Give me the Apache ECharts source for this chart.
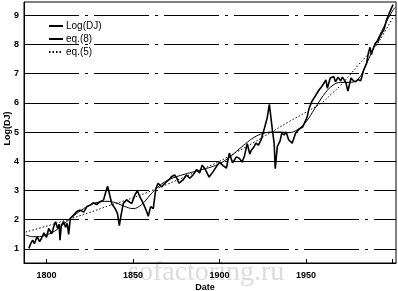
<!DOCTYPE html>
<html>
<head>
<meta charset="utf-8">
<script src="https://cdn.jsdelivr.net/npm/echarts@6/dist/echarts.min.js"></script>
<style>
html,body{margin:0;padding:0;background:#fff;}
#chart{width:398px;height:291px;}
</style>
</head>
<body>
<div id="chart"></div>
<script>
// ---- data ----
const xTickValues = [1800, 1850, 1900, 1950];
const xTickMarks = [1800, 1850, 1900, 1950, 2000];
const yTickValues = [1, 2, 3, 4, 5, 6, 7, 8, 9];
const legendNames = ['Log(DJ)', 'eq.(8)', 'eq.(5)'];

const djYears = [1789.8,1791,1792,1793,1794.5,1796,1797,1798.5,1800,1801.3,1803,1804.2,1805.2,1806.5,1807.3,1807.8,1808.6,1810,1811,1812,1812.8,1813.8,1815.5,1817.5,1819.5,1821.5,1823.4,1825.3,1827,1829,1831,1833,1834.5,1835.3,1836.4,1837.7,1839.7,1841,1842.1,1843.1,1844.4,1846.4,1848,1849.3,1851.1,1852.5,1854,1855.9,1857.9,1858.8,1860.2,1861.7,1863.2,1864.5,1866.5,1868,1869.4,1871,1872.2,1874.1,1875.5,1876.6,1878.9,1880.9,1882.8,1884.7,1886.8,1888.5,1890,1892,1894,1896,1898,1900,1902,1904,1905.7,1907.5,1909.8,1911.5,1913,1914.5,1916,1917.5,1918.4,1920,1921,1922.5,1924,1926,1927.6,1928.8,1929.3,1930.5,1931.6,1932.2,1933.4,1935,1936,1937.3,1938.5,1940,1942,1944,1946,1948,1950.6,1951.7,1953.4,1955,1957.5,1959,1961.5,1962.3,1964,1966,1967,1968.5,1970,1971,1973,1974.2,1976,1977.5,1978.7,1980,1981.6,1983.3,1985,1986,1987,1987.8,1988.5,1990,1991.5,1993.7,1995,1996.5,1998,1999.4,2000.3];
const djValues = [1.02,1.2,1.3,1.18,1.42,1.25,1.35,1.55,1.4,1.7,1.52,1.76,1.93,1.7,1.85,1.3,1.82,1.93,1.74,1.88,1.5,2.05,2.15,2.28,2.33,2.26,2.45,2.5,2.58,2.52,2.62,2.68,3.0,3.15,2.88,2.55,2.38,2.22,1.8,2.16,2.56,2.68,2.6,2.56,2.85,3.0,2.78,2.56,2.28,2.12,2.45,2.38,3.07,3.25,3.12,3.22,3.3,3.38,3.47,3.53,3.4,3.25,3.36,3.53,3.42,3.53,3.72,3.6,3.87,3.7,3.46,3.62,3.8,3.97,3.85,3.77,4.28,3.95,4.15,4.1,3.97,4.2,4.6,4.25,4.38,4.5,4.62,4.55,4.73,5.14,5.5,5.95,5.7,5.1,4.6,3.75,4.5,4.7,4.97,4.9,5.0,4.73,4.62,4.97,5.1,5.17,5.5,5.8,6.05,6.2,6.44,6.55,6.78,6.5,6.85,6.9,6.72,6.88,6.75,6.88,6.7,6.4,6.85,6.75,6.72,6.8,6.75,7.12,7.35,7.7,7.9,7.65,7.8,8.04,8.1,8.38,8.5,8.83,9.05,9.24,9.36];

const eq8Years = [1788,1792,1796,1800,1805,1810,1815,1820,1825,1830,1835,1840,1845,1850,1855,1860,1865,1870,1875,1880,1885,1890,1895,1900,1905,1910,1915,1920,1925,1930,1935,1940,1945,1950,1955,1960,1965,1970,1975,1980,1985,1990,1995,2000,2001.7];
const eq8Values = [1.48,1.42,1.42,1.48,1.62,1.85,2.1,2.32,2.5,2.6,2.63,2.58,2.46,2.38,2.52,2.85,3.15,3.35,3.47,3.56,3.64,3.72,3.8,3.92,4.1,4.35,4.6,4.82,4.95,5.0,5.0,4.98,5.08,5.35,5.8,6.25,6.58,6.7,6.7,6.8,7.35,8.0,8.6,9.15,9.27];

const eq5Years = [1788,1800,1812,1825,1837,1850,1861,1870,1880,1890,1900,1910,1920,1930,1940,1950,1959,1965,1970,1976,1980,1985,1991,1995,2000.5];
const eq5Values = [1.58,1.78,2.0,2.25,2.5,2.75,3.0,3.22,3.47,3.73,4.0,4.32,4.65,5.0,5.35,5.68,6.0,6.32,6.6,7.0,7.28,7.6,8.0,8.38,8.95];

function pairs(xs, ys) { return xs.map((x, i) => [x, ys[i]]); }

const chart = echarts.init(document.getElementById('chart'), null, {renderer: 'canvas'});
const font = 'Liberation Sans, Arial, sans-serif';

chart.setOption({
  animation: false,
  backgroundColor: '#fff',
  grid: {left: 24, right: 2, top: 2, bottom: 28, outerBoundsMode: 'none', containLabel: false, show: true, borderColor: '#000', borderWidth: 1, backgroundColor: 'transparent'},
  legend: {
    data: legendNames,
    orient: 'vertical',
    left: 48, top: 21, padding: 0,
    itemWidth: 14, itemHeight: 8, itemGap: 3,
    itemStyle: {opacity: 0},
    textStyle: {fontFamily: font, fontSize: 10, color: '#000', padding: [0,0,0,-2]},
    selectedMode: false
  },
  xAxis: {
    type: 'value', min: 1787, max: 2002,
    name: 'Date', nameLocation: 'middle', nameGap: 20, nameMoveOverlap: false,
    nameTextStyle: {fontFamily: font, fontSize: 9, fontWeight: 'bold', color: '#000', padding: [0, 10, 0, 0]},
    axisLine: {show: true, lineStyle: {color: '#000', width: 1}},
    axisTick: {show: true, inside: true, length: 4, customValues: xTickMarks, lineStyle: {color: '#000'}},
    axisLabel: {customValues: xTickValues, formatter: v => String(v), fontFamily: font, fontSize: 9, fontWeight: 'bold', color: '#000', margin: 8},
    splitLine: {show: false}
  },
  yAxis: {
    type: 'value', min: 0.52, max: 9.45,
    name: 'Log(DJ)', nameLocation: 'middle', nameGap: 12, nameMoveOverlap: false, nameRotate: 90,
    nameTextStyle: {fontFamily: font, fontSize: 9, fontWeight: 'bold', color: '#000', padding: [0, 0, 0, 8]},
    axisLine: {show: true, lineStyle: {color: '#000', width: 1}},
    axisTick: {show: false},
    axisLabel: {customValues: yTickValues, formatter: v => String(v), fontFamily: font, fontSize: 9, fontWeight: 'bold', color: '#000', margin: 5},
    splitLine: {show: false}
  },
  graphic: [{
    type: 'text', left: 128, top: 259, z: -10, silent: true,
    style: {text: 'sofactoring.ru', font: '28px "Liberation Serif", serif', fill: '#dcdcdc'}
  }],
  series: [
    {
      name: 'Log(DJ)', type: 'line', data: pairs(djYears, djValues),
      symbol: 'none', lineStyle: {color: '#000', width: 1.6}, itemStyle: {color: '#000'}, z: 5,
      markLine: {
        silent: true, symbol: ['none', 'none'], label: {show: false},
        lineStyle: {color: '#000', width: 1, type: [55, 6, 3, 6], opacity: 1},
        emphasis: {disabled: true},
        data: yTickValues.map(v => ({yAxis: v}))
      }
    },
    {
      name: 'eq.(8)', type: 'line', data: pairs(eq8Years, eq8Values), smooth: 0.4,
      symbol: 'none', lineStyle: {color: '#000', width: 1}, itemStyle: {color: '#000'}, z: 4
    },
    {
      name: 'eq.(5)', type: 'line', data: pairs(eq5Years, eq5Values), smooth: 0.4,
      symbol: 'none', lineStyle: {color: '#000', width: 1, type: [1.5, 2]}, itemStyle: {color: '#000'}, z: 3
    }
  ]
});
</script>
</body>
</html>
